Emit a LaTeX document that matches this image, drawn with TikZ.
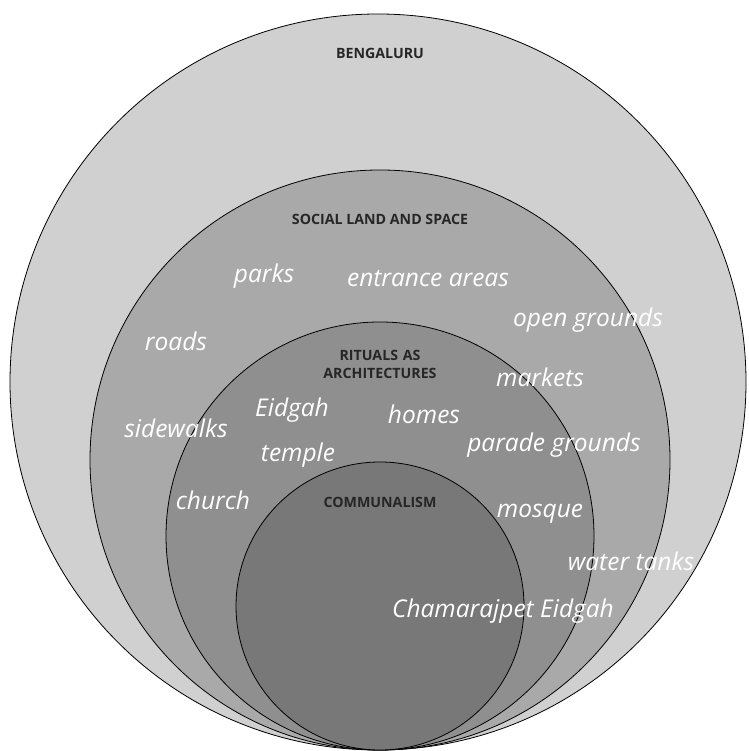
\documentclass[tikz,border=0pt]{standalone}
\usepackage{fontspec}
\setmainfont{Open Sans}
\begin{document}
\begin{tikzpicture}[x=1pt,y=1pt,
  ring/.style={circle, draw=black, line width=0.8pt, inner sep=0pt, outer sep=0pt},
  title/.style={text=black!85, font=\fontsize{14.2}{18}\selectfont\bfseries, align=center, inner sep=0pt},
  item/.style={text=white, font=\fontsize{24.5}{28}\selectfont\itshape, inner sep=0pt, anchor=base}
]
\useasboundingbox[fill=white] (0,0) rectangle (748,751);
\node[ring, fill={rgb,255:red,208;green,208;blue,208}, minimum size=736pt] (bengaluru) at (378,369) {};
\node[ring, fill={rgb,255:red,169;green,169;blue,169}, minimum size=580pt] (social) at (380,291) {};
\node[ring, fill={rgb,255:red,143;green,143;blue,143}, minimum size=428pt] (rituals) at (380,215) {};
\node[ring, fill={rgb,255:red,120;green,120;blue,120}, minimum size=288pt] (communalism) at (380,145) {};

\node[title] (tb) at (380,698) {BENGALURU};
\node[title] (ts) at (380,532) {SOCIAL LAND AND SPACE};
\node[title, text width=160pt] (tr) at (380,387) {RITUALS AS\\ARCHITECTURES};
\node[title] (tc) at (380,249) {COMMUNALISM};

\node[item] (parks) at (264,468) {parks};
\node[item] (entrance) at (428,464) {entrance areas};
\node[item] (open) at (588,424) {open grounds};
\node[item] (roads) at (176,400) {roads};
\node[item] (markets) at (540,364) {markets};
\node[item] (eidgah) at (292,334) {Eidgah};
\node[item] (homes) at (424,327) {homes};
\node[item] (sidewalks) at (176,313) {sidewalks};
\node[item] (parade) at (554,299) {parade grounds};
\node[item] (temple) at (298,289) {temple};
\node[item] (church) at (213,241) {church};
\node[item] (mosque) at (540,233) {mosque};
\node[item] (water) at (631,180) {water tanks};
\node[item] (chamarajpet) at (503,133) {Chamarajpet Eidgah};
\end{tikzpicture}
\end{document}
